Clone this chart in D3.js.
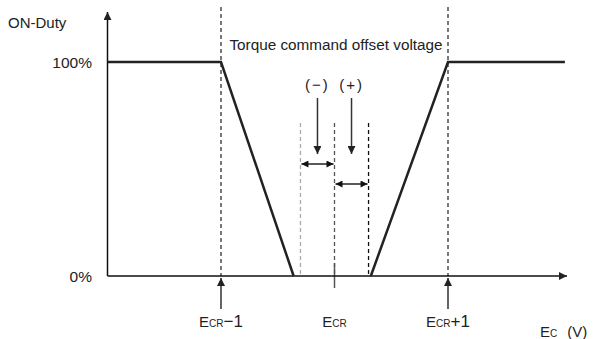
<!DOCTYPE html>
<html>
<head>
<meta charset="utf-8">
<script src="https://cdn.jsdelivr.net/npm/d3@7"></script>
<style>
  body { margin: 0; background: #fff; }
  svg text { font-family: "Liberation Sans", Arial, sans-serif; fill: #222; }
</style>
</head>
<body>
<div id="chart"></div>
<script>
// x values in volts relative to ECR, y in % ON-duty
var leftX = [-2.0, -1.0, -0.36];
var leftY = [100, 100, 0];
var rightX = [0.32, 1.0, 2.03];
var rightY = [0, 100, 100];
var yTicks = [0, 100];
var yTickLabels = ["0%", "100%"];
var refX = [-1, 0, 1];
var refLabels = [["E", "CR", "\u22121"], ["E", "CR", ""], ["E", "CR", "+1"]];
var offsetX = [-0.3, 0, 0.3];
var offsetColors = ["#aaa", "#555", "#111"];

var svgWidth = 593;
var svgHeight = 339;

var svg = d3.select("#chart")
  .append("svg")
  .attr("width", svgWidth)
  .attr("height", svgHeight);

var xScale = d3.scaleLinear().domain([-1, 1]).range([221, 448]);
var yScale = d3.scaleLinear().domain([0, 100]).range([276, 62]);

var x0 = xScale(-2.0);
var y0 = yScale(0);

// arrowhead markers
var defs = svg.append("defs");
function addMarker(id, color, w, h) {
  defs.append("marker")
    .attr("id", id)
    .attr("viewBox", "0 0 10 10")
    .attr("refX", 10)
    .attr("refY", 5)
    .attr("markerWidth", w)
    .attr("markerHeight", h)
    .attr("markerUnits", "userSpaceOnUse")
    .attr("orient", "auto-start-reverse")
    .append("path")
    .attr("d", "M0,0 L10,5 L0,10 z")
    .attr("fill", color);
}
addMarker("arrowBlack", "#111", 11, 7);
addMarker("arrowBig", "#222", 13, 8);

// dashed reference lines at ECR-1 and ECR+1
svg.selectAll(".refDash")
  .data([-1, 1])
  .enter()
  .append("line")
  .attr("x1", d => xScale(d))
  .attr("x2", d => xScale(d))
  .attr("y1", 7)
  .attr("y2", y0)
  .attr("stroke", "#222")
  .attr("stroke-width", 1.2)
  .attr("stroke-dasharray", "4,3");

// offset voltage dashed lines
svg.selectAll(".offDash")
  .data(offsetX)
  .enter()
  .append("line")
  .attr("x1", d => xScale(d))
  .attr("x2", d => xScale(d))
  .attr("y1", 123)
  .attr("y2", y0)
  .attr("stroke", (d, i) => offsetColors[i])
  .attr("stroke-width", 1.3)
  .attr("stroke-dasharray", "4,3");

// center tick
svg.append("line")
  .attr("x1", xScale(0)).attr("x2", xScale(0))
  .attr("y1", 263).attr("y2", 288)
  .attr("stroke", "#555")
  .attr("stroke-width", 1.5);

// axes
svg.append("line")
  .attr("x1", x0).attr("x2", 567)
  .attr("y1", y0).attr("y2", y0)
  .attr("stroke", "#111")
  .attr("stroke-width", 1.5)
  .attr("marker-end", "url(#arrowBig)");

svg.append("line")
  .attr("x1", x0).attr("x2", x0)
  .attr("y1", y0).attr("y2", 12)
  .attr("stroke", "#111")
  .attr("stroke-width", 1.5)
  .attr("marker-end", "url(#arrowBig)");

// duty curve, two pieces (bottom part lies on the axis)
var line = d3.line()
  .x(d => xScale(d[0]))
  .y(d => yScale(d[1]));

svg.selectAll(".duty")
  .data([leftX.map((x, i) => [x, leftY[i]]), rightX.map((x, i) => [x, rightY[i]])])
  .enter()
  .append("path")
  .attr("d", line)
  .attr("fill", "none")
  .attr("stroke", "#222")
  .attr("stroke-width", 2.5);

// y tick labels
svg.selectAll(".yLabel")
  .data(yTicks)
  .enter()
  .append("text")
  .attr("x", 92)
  .attr("y", d => yScale(d) + 6)
  .attr("text-anchor", "end")
  .attr("font-size", 15.5)
  .text((d, i) => yTickLabels[i]);

svg.append("text")
  .attr("x", 8).attr("y", 28)
  .attr("font-size", 15)
  .text("ON-Duty");

svg.append("text")
  .attr("x", 336).attr("y", 50)
  .attr("text-anchor", "middle")
  .attr("font-size", 15.3)
  .text("Torque command offset voltage");

// (-) and (+) labels with down arrows
var signs = ["(\u2212)", "(+)"];
var signX = [xScale(-0.15), xScale(0.15)];
svg.selectAll(".sign")
  .data(signs)
  .enter()
  .append("text")
  .attr("x", (d, i) => signX[i])
  .attr("y", 90)
  .attr("text-anchor", "middle")
  .attr("font-size", 15)
  .attr("letter-spacing", 2)
  .text(d => d);

svg.selectAll(".downArrow")
  .data(signX)
  .enter()
  .append("line")
  .attr("x1", d => d).attr("x2", d => d)
  .attr("y1", 98).attr("y2", 154)
  .attr("stroke", "#333")
  .attr("stroke-width", 1.5)
  .attr("marker-end", "url(#arrowBig)");

// double arrows showing offset ranges
var spans = [[-0.3, 0, 164], [0, 0.3, 184]];
svg.selectAll(".span")
  .data(spans)
  .enter()
  .append("line")
  .attr("x1", d => xScale(d[0]) + 1)
  .attr("x2", d => xScale(d[1]) - 1)
  .attr("y1", d => d[2])
  .attr("y2", d => d[2])
  .attr("stroke", "#222")
  .attr("stroke-width", 1.3)
  .attr("marker-start", "url(#arrowBlack)")
  .attr("marker-end", "url(#arrowBlack)");

// up arrows at ECR-1 and ECR+1
svg.selectAll(".upArrow")
  .data([-1, 1])
  .enter()
  .append("line")
  .attr("x1", d => xScale(d)).attr("x2", d => xScale(d))
  .attr("y1", 309).attr("y2", 278)
  .attr("stroke", "#111")
  .attr("stroke-width", 1.3)
  .attr("marker-end", "url(#arrowBig)");

// x labels
var xl = svg.selectAll(".xLabel")
  .data(refX)
  .enter()
  .append("text")
  .attr("x", d => xScale(d))
  .attr("y", 327)
  .attr("text-anchor", "middle")
  .attr("font-size", 15);
xl.append("tspan").text((d, i) => refLabels[i][0]);
xl.append("tspan").attr("font-size", 10).text((d, i) => refLabels[i][1]);
xl.append("tspan").attr("font-size", 17).text((d, i) => refLabels[i][2]);

var ec = svg.append("text")
  .attr("x", 540).attr("y", 337)
  .attr("font-size", 15);
ec.append("tspan").text("E");
ec.append("tspan").attr("font-size", 10).text("C");
ec.append("tspan").attr("dx", 10).text("(V)");
</script>
</body>
</html>
